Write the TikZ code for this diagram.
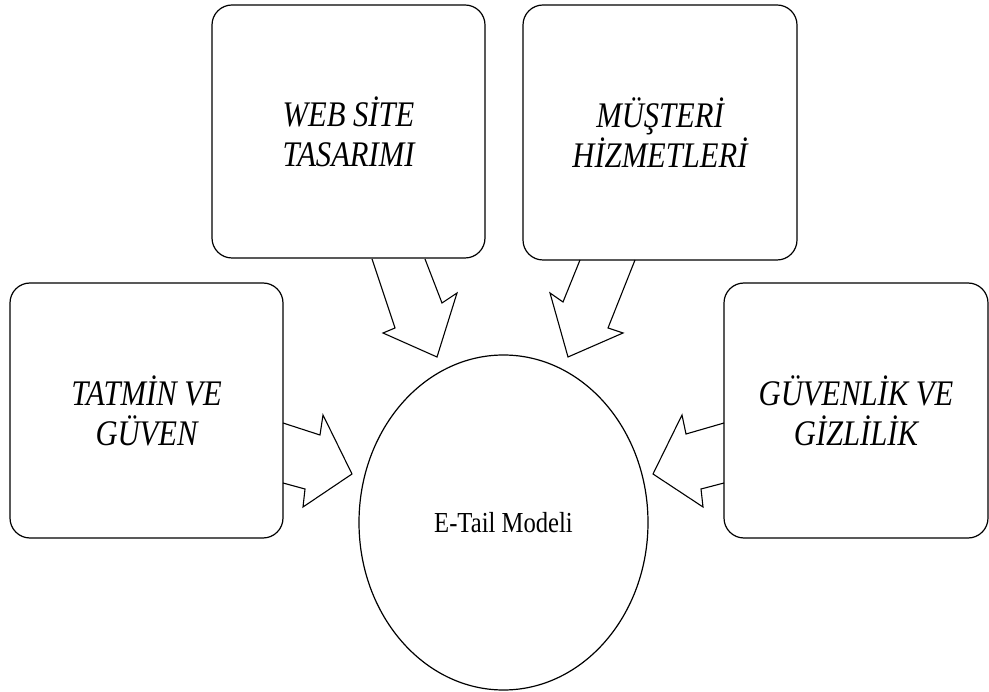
\documentclass[tikz,border=0pt]{standalone}
\usepackage{fontspec}
\setmainfont{Liberation Serif}[FakeStretch=0.85]
\usetikzlibrary{shapes.geometric}

\begin{document}
\begin{tikzpicture}[x=1pt, y=-1pt]

\tikzset{
  kutu/.style={draw, line width=1.2pt, rounded corners=20pt, inner sep=0pt,
    align=center, font=\fontsize{36}{40}\selectfont\itshape},
  okblok/.style={draw, line width=1.1pt, line join=miter}
}

\useasboundingbox (0,0) rectangle (989,692);

% kutular
\node[kutu, minimum width=273pt, minimum height=253pt] (web) at (348.5,131.5) {WEB SİTE\\TASARIMI};
\node[kutu, minimum width=274pt, minimum height=255pt] (musteri) at (660,132.5) {MÜŞTERİ\\HİZMETLERİ};
\node[kutu, minimum width=273pt, minimum height=255pt] (tatmin) at (146.5,410.5) {TATMİN VE\\GÜVEN};
\node[kutu, minimum width=264pt, minimum height=255pt] (guven) at (856,410.5) {GÜVENLİK VE\\GİZLİLİK};

% model
\node[draw, ellipse, line width=1.2pt, inner sep=0pt, minimum width=289pt, minimum height=335pt,
  font=\fontsize{29}{32}\selectfont] (model) at (503.5,522.5) {E-Tail Modeli};

% oklar
\draw[okblok] (372,259) -- (395,328) -- (383,333) -- (437,357)
    -- (457,293) -- (442,303) -- (425,259);
\draw[okblok] (580,260) -- (563,302) -- (550,293) -- (568,357)
    -- (623,333) -- (608,328) -- (635,260);
\draw[okblok] (283,423) -- (320,435) -- (323,415) -- (352,474)
    -- (303,507) -- (305,489) -- (283,483);
\draw[okblok] (724,423) -- (686,434) -- (682,415) -- (653,474)
    -- (703,507) -- (701,489) -- (724,483);

\end{tikzpicture}
\end{document}
